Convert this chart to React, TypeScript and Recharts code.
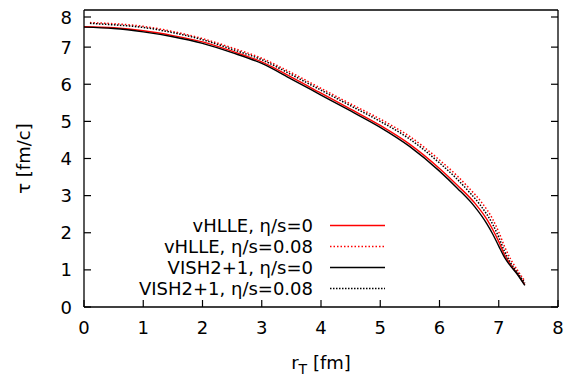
import { LineChart, Line, XAxis, YAxis, Legend } from 'recharts'

const TICKS = [0, 1, 2, 3, 4, 5, 6, 7, 8]

// eta/s = 0 curves
const R_IDEAL = [0, 0.5, 1, 1.5, 2, 2.5, 3, 3.5, 4, 4.5, 5, 5.5, 6, 6.3, 6.6, 6.8, 6.9, 7.0, 7.1, 7.2, 7.3, 7.44]
const TAU_VISH_IDEAL = [7.54, 7.5, 7.41, 7.28, 7.1, 6.85, 6.56, 6.14, 5.71, 5.28, 4.84, 4.32, 3.66, 3.2, 2.69, 2.24, 1.96, 1.64, 1.33, 1.1, 0.91, 0.58]
const TAU_VHLLE_IDEAL = [7.55, 7.52, 7.44, 7.31, 7.14, 6.89, 6.6, 6.19, 5.76, 5.33, 4.89, 4.38, 3.73, 3.28, 2.79, 2.36, 2.08, 1.76, 1.4, 1.14, 0.93, 0.6]

// eta/s = 0.08 curves
const R_VISC = [0.1, 0.5, 1, 1.5, 2, 2.5, 3, 3.5, 4, 4.5, 5, 5.5, 6, 6.3, 6.5, 6.7, 6.9, 7.0, 7.1, 7.2, 7.3, 7.44]
const TAU_VISH_VISC = [7.64, 7.6, 7.53, 7.39, 7.2, 6.94, 6.66, 6.26, 5.84, 5.42, 5.0, 4.52, 3.88, 3.44, 3.1, 2.72, 2.22, 1.88, 1.49, 1.19, 0.96, 0.65]
const TAU_VHLLE_VISC = [7.66, 7.63, 7.56, 7.42, 7.23, 6.98, 6.7, 6.31, 5.89, 5.47, 5.06, 4.59, 3.96, 3.53, 3.2, 2.84, 2.36, 2.02, 1.62, 1.29, 1.03, 0.7]

const zip = (r: number[], tau: number[]) => r.map((x, i) => ({ r: x, tau: tau[i] }))

const SERIES = [
  { name: 'vHLLE, η/s=0', data: zip(R_IDEAL, TAU_VHLLE_IDEAL), color: '#ff0000', dash: undefined, width: 1.4 },
  { name: 'vHLLE, η/s=0.08', data: zip(R_VISC, TAU_VHLLE_VISC), color: '#ff0000', dash: '1.5 2', width: 1.5 },
  { name: 'VISH2+1, η/s=0', data: zip(R_IDEAL, TAU_VISH_IDEAL), color: '#000000', dash: undefined, width: 1.4 },
  { name: 'VISH2+1, η/s=0.08', data: zip(R_VISC, TAU_VISH_VISC), color: '#000000', dash: '1.5 1.5', width: 1.5 },
]

const FONT = '"DejaVu Sans", "Liberation Sans", Arial, sans-serif'
const BORDER = { stroke: '#000', strokeWidth: 1.3 }
const TICK_LEN = 7

// gnuplot-style: ticks point into the plot on all four sides
const BottomTick = ({ x, y, payload }: any) => (
  <g>
    <path d={`M${x},${y}v${-TICK_LEN}`} stroke="#000" strokeWidth={1.2} />
    <text x={x} y={y + 27} textAnchor="middle" fontSize={18} fontFamily={FONT} fill="#000">{payload.value}</text>
  </g>
)
const LeftTick = ({ x, y, payload }: any) => (
  <g>
    <path d={`M${x},${y}h${TICK_LEN}`} stroke="#000" strokeWidth={1.2} />
    <text x={x - 12} y={y + 6.5} textAnchor="end" fontSize={18} fontFamily={FONT} fill="#000">{payload.value}</text>
  </g>
)
const TopTick = ({ x, y }: any) => <path d={`M${x},${y}v${TICK_LEN}`} stroke="#000" strokeWidth={1.2} />
const RightTick = ({ x, y }: any) => <path d={`M${x},${y}h${-TICK_LEN}`} stroke="#000" strokeWidth={1.2} />

const XTitle = ({ viewBox }: any) => (
  <text x={viewBox.x + viewBox.width / 2} y={viewBox.y + 62} textAnchor="middle" fontSize={18} fontFamily={FONT} fill="#000">
    <tspan>r</tspan>
    <tspan dy={5} fontSize={14}>T</tspan>
    <tspan dy={-5}> [fm]</tspan>
  </text>
)
const YTitle = ({ viewBox }: any) => {
  const cx = viewBox.x + 15
  const cy = viewBox.y + viewBox.height / 2
  return (
    <text x={cx} y={cy} transform={`rotate(-90, ${cx}, ${cy})`} textAnchor="middle" dominantBaseline="central" fontSize={18} fontFamily={FONT} fill="#000">
      τ [fm/c]
    </text>
  )
}

const LegendBox = () => (
  <div style={{ fontFamily: FONT, fontSize: 18 }}>
    {SERIES.map(s => (
      <div key={s.name} style={{ display: 'flex', alignItems: 'center', height: 21 }}>
        <span style={{ width: 305, textAlign: 'right', whiteSpace: 'nowrap', lineHeight: '21px' }}>{s.name}</span>
        <svg width={75} height={21} style={{ display: 'block' }}>
          <line x1={17} y1={10.5} x2={72} y2={10.5} stroke={s.color} strokeWidth={s.width} strokeDasharray={s.dash} />
        </svg>
      </div>
    ))}
  </div>
)

export default function App() {
  return (
    <LineChart width={578} height={373} margin={{ top: 1, right: 27, bottom: 0, left: 0 }} style={{ fontFamily: FONT }}>
      <XAxis dataKey="r" type="number" domain={[0, 8]} ticks={TICKS} allowDataOverflow height={74}
        axisLine={BORDER} tickLine={false} tickSize={0} tickMargin={0}
        tick={(p: any) => <BottomTick {...p} />} label={<XTitle />} />
      <YAxis type="number" domain={[0, 8]} ticks={TICKS} allowDataOverflow width={76}
        axisLine={BORDER} tickLine={false} tickSize={0} tickMargin={0}
        tick={(p: any) => <LeftTick {...p} />} label={<YTitle />} />
      <XAxis xAxisId="top" orientation="top" type="number" domain={[0, 8]} ticks={TICKS} allowDataOverflow height={1}
        axisLine={BORDER} tickLine={false} tickSize={0} tickMargin={0}
        tick={(p: any) => <TopTick {...p} />} />
      <YAxis yAxisId="right" orientation="right" type="number" domain={[0, 8]} ticks={TICKS} allowDataOverflow width={1}
        axisLine={BORDER} tickLine={false} tickSize={0} tickMargin={0}
        tick={(p: any) => <RightTick {...p} />} />
      <Legend layout="horizontal" verticalAlign="middle" align="center" content={() => <LegendBox />}
        wrapperStyle={{ left: 0, top: 207, width: 400 }} />
      {SERIES.map(s => (
        <Line key={s.name} data={s.data} dataKey="tau" name={s.name} type="monotone" stroke={s.color}
          strokeWidth={s.width} strokeDasharray={s.dash} dot={false} activeDot={false} isAnimationActive={false} />
      ))}
    </LineChart>
  )
}
